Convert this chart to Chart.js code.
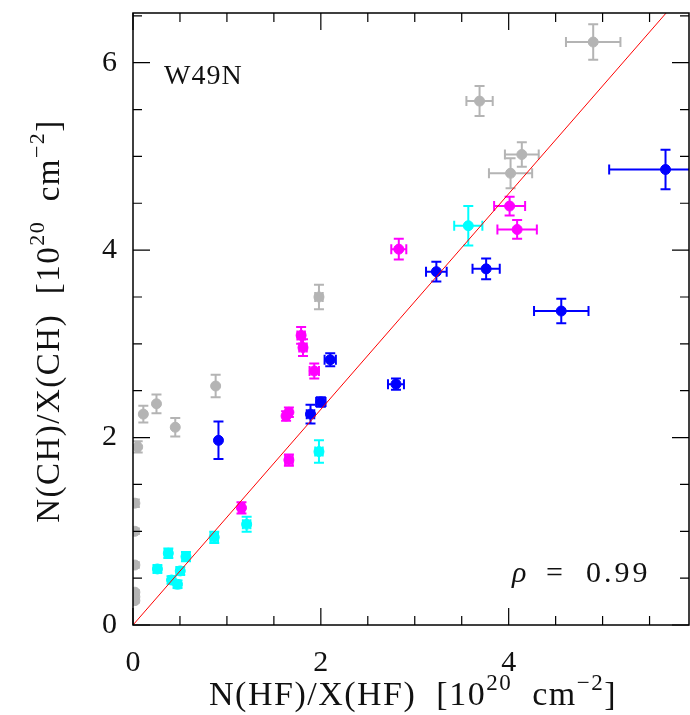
<!DOCTYPE html>
<html>
<head>
<meta charset="utf-8">
<script src="https://cdn.jsdelivr.net/npm/chart.js@4.4.0/dist/chart.umd.min.js"></script>
<style>
  html, body { margin: 0; padding: 0; background: #fff; }
  #contenedor { width: 690px; height: 715px; }
</style>
</head>
<body>
<div id="contenedor"><canvas id="grafica"></canvas></div>
<script>
// datos (unidades de 10^20 cm^-2)
const grisX  = [0.02, 0.02, 0.02, 0.02, 0.02, 0.02, 0.05, 0.11, 0.25, 0.45, 0.88, 1.98, 3.69, 4.02, 4.14, 4.90];
const grisY  = [0.26, 0.30, 0.35, 0.64, 1.00, 1.30, 1.90, 2.25, 2.36, 2.11, 2.55, 3.50, 5.59, 4.82, 5.02, 6.22];
const grisEx = [0, 0, 0, 0, 0, 0, 0.02, 0, 0, 0, 0, 0.04, 0.14, 0.23, 0.18, 0.29];
const grisEy = [0.02, 0.02, 0.02, 0.03, 0.03, 0.04, 0.06, 0.09, 0.10, 0.10, 0.12, 0.13, 0.16, 0.16, 0.13, 0.19];

const azulX  = [0.91, 1.89, 2.00, 2.10, 2.80, 3.23, 3.76, 4.56, 5.67];
const azulY  = [1.97, 2.25, 2.38, 2.83, 2.57, 3.77, 3.80, 3.35, 4.86];
const azulEx = [0, 0.04, 0.05, 0.06, 0.085, 0.11, 0.145, 0.29, 0.60];
const azulEy = [0.20, 0.10, 0.05, 0.07, 0.06, 0.105, 0.11, 0.13, 0.21];

const magX  = [1.155, 1.63, 1.66, 1.66, 1.79, 1.81, 1.93, 2.83, 4.01, 4.09];
const magY  = [1.25, 2.23, 2.27, 1.76, 3.09, 2.96, 2.71, 4.01, 4.47, 4.22];
const magEx = [0.03, 0.03, 0.03, 0.04, 0.04, 0.04, 0.05, 0.08, 0.165, 0.21];
const magEy = [0.06, 0.05, 0.05, 0.06, 0.09, 0.09, 0.08, 0.11, 0.10, 0.10];

const cianX  = [0.26, 0.41, 0.474, 0.503, 0.376, 0.564, 0.865, 1.21, 1.98, 3.57];
const cianY  = [0.598, 0.48, 0.434, 0.577, 0.766, 0.73, 0.936, 1.075, 1.85, 4.26];
const cianEx = [0.04, 0.03, 0.03, 0.04, 0.04, 0.04, 0.04, 0.04, 0.04, 0.15];
const cianEy = [0.04, 0.04, 0.04, 0.04, 0.05, 0.05, 0.06, 0.08, 0.12, 0.21];

// recta de ajuste
const rectaX = [0, 5.92];
const rectaY = [0, 6.81];

const ticksX = [0, 2, 4];
const ticksY = [0, 2, 4, 6];

const fuente = '"Liberation Serif", "DejaVu Serif", serif';

function puntos(xs, ys) {
    return xs.map((x, i) => ({ x: x, y: ys[i] }));
}

// barras de error con sus topes
const barrasError = {
    id: 'barrasError',
    beforeDatasetsDraw(chart) {
        const ctx = chart.ctx;
        const sx = chart.scales.x, sy = chart.scales.y;
        const a = chart.chartArea;
        ctx.save();
        ctx.beginPath();
        ctx.rect(a.left, a.top, a.right - a.left, a.bottom - a.top);
        ctx.clip();
        ctx.lineWidth = 2;
        chart.data.datasets.forEach(ds => {
            if (!ds.errX) return;
            ctx.strokeStyle = ds.backgroundColor;
            ds.data.forEach((p, i) => {
                const px = sx.getPixelForValue(p.x);
                const py = sy.getPixelForValue(p.y);
                const ex = ds.errX[i], ey = ds.errY[i];
                ctx.beginPath();
                if (ex > 0) {
                    const x1 = sx.getPixelForValue(p.x - ex);
                    const x2 = sx.getPixelForValue(p.x + ex);
                    ctx.moveTo(x1, py); ctx.lineTo(x2, py);
                    ctx.moveTo(x1, py - 5); ctx.lineTo(x1, py + 5);
                    ctx.moveTo(x2, py - 5); ctx.lineTo(x2, py + 5);
                }
                if (ey > 0) {
                    const y1 = sy.getPixelForValue(p.y - ey);
                    const y2 = sy.getPixelForValue(p.y + ey);
                    ctx.moveTo(px, y1); ctx.lineTo(px, y2);
                    ctx.moveTo(px - 5, y1); ctx.lineTo(px + 5, y1);
                    ctx.moveTo(px - 5, y2); ctx.lineTo(px + 5, y2);
                }
                ctx.stroke();
            });
        });
        ctx.restore();
    }
};

// texto con superindices: partes [texto, esSuper]
function textoSup(ctx, partes, tam) {
    const anchos = partes.map(p => {
        ctx.font = (p[1] ? Math.round(tam * 0.68) : tam) + 'px ' + fuente;
        return ctx.measureText(p[0]).width;
    });
    const total = anchos.reduce((s, w) => s + w, 0);
    let x = -total / 2;
    partes.forEach((p, i) => {
        ctx.font = (p[1] ? Math.round(tam * 0.68) : tam) + 'px ' + fuente;
        ctx.fillText(p[0], x, p[1] ? -tam * 0.45 : 0);
        x += anchos[i];
    });
}

// marco, ticks hacia dentro en los cuatro lados y textos
const marco = {
    id: 'marco',
    afterDraw(chart) {
        const ctx = chart.ctx;
        const sx = chart.scales.x, sy = chart.scales.y;
        const a = chart.chartArea;
        ctx.save();
        ctx.strokeStyle = '#000';
        ctx.lineWidth = 1.5;
        ctx.strokeRect(a.left, a.top, a.right - a.left, a.bottom - a.top);
        ctx.lineWidth = 1.2;
        ctx.beginPath();
        for (let v = 0; v <= sx.max + 1e-6; v += 0.5) {
            const px = sx.getPixelForValue(v);
            const l = (Math.abs(v % 2) < 1e-6) ? 17 : 9;
            ctx.moveTo(px, a.bottom); ctx.lineTo(px, a.bottom - l);
            ctx.moveTo(px, a.top); ctx.lineTo(px, a.top + l);
        }
        for (let v = 0; v <= sy.max + 1e-6; v += 0.5) {
            const py = sy.getPixelForValue(v);
            const l = (Math.abs(v % 2) < 1e-6) ? 17 : 9;
            ctx.moveTo(a.left, py); ctx.lineTo(a.left + l, py);
            ctx.moveTo(a.right, py); ctx.lineTo(a.right - l, py);
        }
        ctx.stroke();

        ctx.fillStyle = '#111';
        ctx.textBaseline = 'alphabetic';
        ctx.textAlign = 'left';
        ctx.letterSpacing = '1.5px';

        // titulo eje x
        ctx.save();
        ctx.translate((a.left + a.right) / 2 + 2, 705);
        textoSup(ctx, [['N(HF)/X(HF)  [10', false], ['20', true], ['  cm', false], ['\u22122', true], [']', false]], 34);
        ctx.restore();

        // titulo eje y
        ctx.save();
        ctx.translate(59, (a.top + a.bottom) / 2 + 2);
        ctx.rotate(-Math.PI / 2);
        textoSup(ctx, [['N(CH)/X(CH)  [10', false], ['20', true], ['  cm', false], ['\u22122', true], [']', false]], 33);
        ctx.restore();

        // etiqueta de la fuente
        ctx.letterSpacing = '1px';
        ctx.font = '28px ' + fuente;
        ctx.fillText('W49N', 164, 84);

        // coeficiente de correlacion
        ctx.letterSpacing = '0px';
        ctx.font = 'italic 30px ' + fuente;
        ctx.fillText('\u03C1', 512, 582);
        ctx.font = '30px ' + fuente;
        ctx.fillText('=', 546, 582);
        ctx.letterSpacing = '3px';
        ctx.fillText('0.99', 586, 582);
        ctx.restore();
    }
};

function sinRelleno(s) {
    s.paddingTop = 0; s.paddingBottom = 0;
    s.paddingLeft = 0; s.paddingRight = 0;
}

new Chart(document.getElementById('grafica'), {
    type: 'scatter',
    data: {
        datasets: [
            { label: 'gris', data: puntos(grisX, grisY), errX: grisEx, errY: grisEy,
              backgroundColor: '#b4b4b4', borderColor: '#b4b4b4', pointRadius: 5, order: 2 },
            { label: 'cian', data: puntos(cianX, cianY), errX: cianEx, errY: cianEy,
              backgroundColor: '#00ffff', borderColor: '#00ffff', pointRadius: 5, order: 2 },
            { label: 'magenta', data: puntos(magX, magY), errX: magEx, errY: magEy,
              backgroundColor: '#ff00ff', borderColor: '#ff00ff', pointRadius: 5, order: 2 },
            { label: 'azul', data: puntos(azulX, azulY), errX: azulEx, errY: azulEy,
              backgroundColor: '#0000ff', borderColor: '#0000ff', pointRadius: 5, order: 2 },
            { type: 'line', label: 'ajuste', data: puntos(rectaX, rectaY),
              borderColor: '#ff0000', borderWidth: 1, pointRadius: 0, fill: false, order: 1 }
        ]
    },
    options: {
        responsive: true,
        maintainAspectRatio: false,
        animation: false,
        events: [],
        layout: { autoPadding: false, padding: { top: 13, right: 1, left: 0, bottom: 0 } },
        plugins: { legend: { display: false }, tooltip: { enabled: false } },
        scales: {
            x: {
                type: 'linear', min: 0, max: 5.92,
                grid: { display: false, drawTicks: false },
                border: { display: false },
                afterFit: s => { s.height = 90; sinRelleno(s); },
                afterBuildTicks: s => { s.ticks = ticksX.map(v => ({ value: v })); },
                ticks: { padding: 20, color: '#111', font: { family: fuente, size: 30 } }
            },
            y: {
                type: 'linear', min: 0, max: 6.53,
                grid: { display: false, drawTicks: false },
                border: { display: false },
                afterFit: s => { s.width = 133; sinRelleno(s); },
                afterBuildTicks: s => { s.ticks = ticksY.map(v => ({ value: v })); },
                ticks: { padding: 16, color: '#111', font: { family: fuente, size: 30 } }
            }
        }
    },
    plugins: [barrasError, marco]
});
</script>
</body>
</html>
